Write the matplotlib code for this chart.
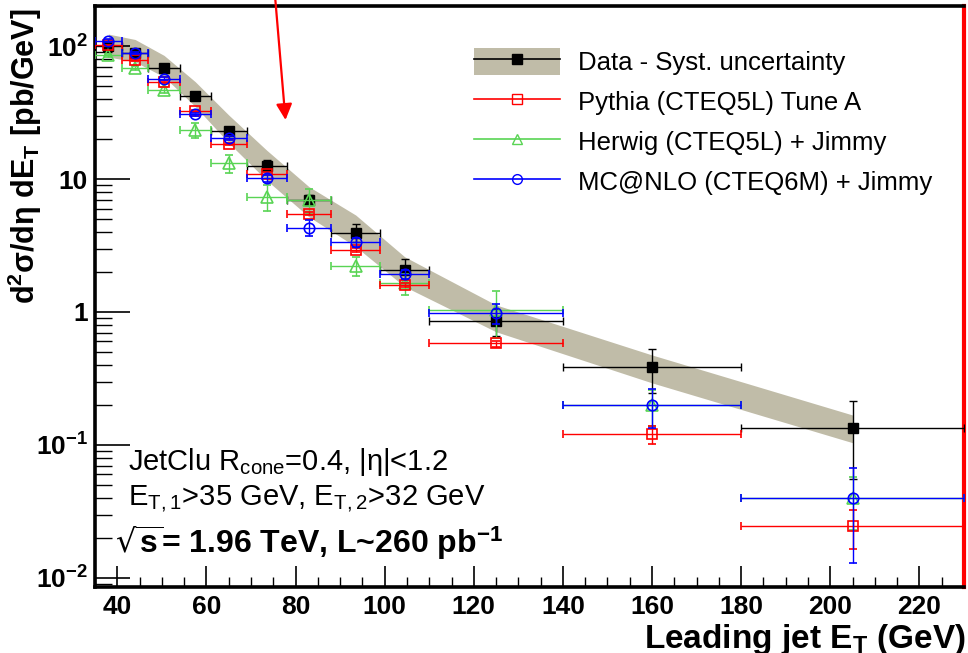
import matplotlib
matplotlib.use('Agg')
import numpy as np
import matplotlib.pyplot as plt
from matplotlib.lines import Line2D
from matplotlib.patches import Patch
from matplotlib.ticker import FixedLocator, MultipleLocator, NullFormatter

plt.rcParams['font.family'] = ['Liberation Sans', 'DejaVu Sans']
plt.rcParams['mathtext.default'] = 'regular'

# bins in leading jet ET (GeV)
bin_lo = [35, 41, 47, 54, 61, 69, 78, 88, 99, 110, 140, 180]
bin_hi = [41, 47, 54, 61, 69, 78, 88, 99, 110, 140, 180, 230]
et = [38, 44, 50.5, 57.5, 65, 73.5, 83, 93.5, 104.5, 125, 160, 205]

# data + systematic band (pb/GeV)
data = [100, 88, 68.7, 41.9, 22.9, 12.6, 6.95, 3.95, 2.07, 0.86, 0.388, 0.135]
data_err = [2, 1.8, 1.4, 0.9, 0.6, 1.2, 0.6, 0.6, 0.42, 0.2, 0.14, 0.08]
syst_hi = [123, 112, 85, 53.9, 30.3, 16.5, 8.76, 5.36, 2.6, 1.13, 0.475, 0.168]
syst_lo = [82.7, 76, 58.6, 35.1, 18.7, 9.8, 5.2, 3.1, 1.55, 0.71, 0.293, 0.104]

# MC predictions
pythia = [101, 78.5, 53.9, 32.4, 18.3, 11.0, 5.5, 2.92, 1.6, 0.58, 0.121, 0.0246]
pythia_err = [1.5, 1.2, 0.9, 0.6, 0.4, 0.3, 0.15, 0.1, 0.06, 0.03, 0.019, 0.008]
herwig = [85, 68.7, 47, 23.4, 13.1, 7.36, 6.95, 2.23, 1.64, 1.035, 0.2, 0.04]
herwig_err = [2.5, 2.5, 2.5, 3, 2, 1.6, 1.5, 0.37, 0.3, 0.4, 0.06, 0.017]
mcnlo = [110, 88, 56.6, 30.6, 20.2, 10.1, 4.3, 3.34, 1.92, 0.977, 0.2, 0.04]
mcnlo_err = [2, 1.5, 1.5, 1, 0.7, 0.6, 0.6, 0.25, 0.15, 0.17, 0.065, 0.027]

band_col = '#c0bca8'
green = '#59d454'

x = np.array(et)
xerr = [x - np.array(bin_lo), np.array(bin_hi) - x]

fig = plt.figure(figsize=(9.68, 6.53), dpi=100)
ax = fig.add_axes([95 / 968, 1 - 587 / 653, 869 / 968, 581 / 653])

ax.fill_between(et, syst_lo, syst_hi, color=band_col, lw=0, zorder=1)

ekw = dict(linestyle='none', elinewidth=1.0, capsize=3, capthick=1.0)
ax.errorbar(et, data, yerr=data_err, xerr=xerr, color='black', marker='s', markersize=7,
            zorder=3, **ekw)
ax.errorbar(et, herwig, yerr=herwig_err, xerr=xerr, color=green, marker='^', markersize=8.5,
            mfc='none', mew=1.2, zorder=4, **ekw)
ax.errorbar(et, pythia, yerr=pythia_err, xerr=xerr, color='red', marker='s', markersize=7,
            mfc='none', mew=1.2, zorder=5, **ekw)
ax.errorbar(et, mcnlo, yerr=mcnlo_err, xerr=xerr, color='blue', marker='o', markersize=7.5,
            mfc='none', mew=1.2, zorder=6, **ekw)

ax.set_yscale('log')
ax.set_xlim(35, 230)
ax.set_ylim(0.00855, 200)

ax.xaxis.set_major_locator(MultipleLocator(20))
ax.xaxis.set_minor_locator(MultipleLocator(5))
ax.yaxis.set_major_locator(FixedLocator([0.01, 0.1, 1, 10, 100]))
ax.set_yticklabels(['10$^{-2}$', '10$^{-1}$', '1', '10', '10$^{2}$'])
ax.yaxis.set_minor_formatter(NullFormatter())
ax.tick_params(axis='x', which='major', direction='in', length=15, width=1.2, pad=6,
               labelsize=19, top=False)
ax.tick_params(axis='x', which='minor', direction='in', length=7, width=1.0, top=False)
ax.tick_params(axis='y', which='major', direction='in', length=25, width=1.2, pad=5,
               labelsize=19, right=False)
ax.tick_params(axis='y', which='minor', direction='in', length=12, width=1.0, right=False)
for lab in ax.get_xticklabels() + ax.get_yticklabels():
    lab.set_fontweight('bold')

for s in ['left', 'bottom', 'top']:
    ax.spines[s].set_linewidth(2.6)
    ax.spines[s].set_color('black')
ax.spines['right'].set_linewidth(3)
ax.spines['right'].set_color('red')

fig.text(966 / 968, 1 - 648 / 653, 'Leading jet E$_{T}$ (GeV)', fontsize=24, fontweight='bold',
         ha='right', va='baseline')
fig.text(25 / 968, 1 - 8 / 653, 'd$^{2}$σ/dη dE$_{T}$ [pb/GeV]', fontsize=22, fontweight='bold',
         rotation=90, ha='center', va='top')

# legend
handles = [(Patch(facecolor=band_col, edgecolor='none'),
            Line2D([], [], color='black', marker='s', markersize=7, lw=1.2)),
           Line2D([], [], color='red', marker='s', mfc='none', markersize=7, lw=1.2),
           Line2D([], [], color=green, marker='^', mfc='none', markersize=7, lw=1.2),
           Line2D([], [], color='blue', marker='o', mfc='none', markersize=7, lw=1.2)]
labels = ['Data - Syst. uncertainty', 'Pythia (CTEQ5L) Tune A',
          'Herwig (CTEQ5L) + Jimmy', 'MC@NLO (CTEQ6M) + Jimmy']
ax.legend(handles, labels, loc='upper left', bbox_to_anchor=(0.436, 0.928), frameon=False,
          fontsize=18.5, handlelength=3.35, handleheight=1.25, handletextpad=0.7,
          labelspacing=0.5, borderpad=0, borderaxespad=0)

# labels
ax.text(0.038, 0.215, 'JetClu R$_{cone}$=0.4, |η|<1.2', transform=ax.transAxes,
        fontsize=21, va='center', ha='left')
ax.text(0.038, 0.150, 'E$_{T,1}$>35 GeV, E$_{T,2}$>32 GeV', transform=ax.transAxes,
        fontsize=21, va='center', ha='left')
ax.text(0.023, 0.076, '$\\sqrt{s}$= 1.96 TeV, L~260 pb$^{-1}$', transform=ax.transAxes,
        fontsize=23, fontweight='bold', va='center', ha='left')

# arrow from above the frame
ax.annotate('', xy=(77.8, 26.5), xycoords='data', xytext=(0.207, 1.02),
            textcoords='axes fraction',
            arrowprops=dict(arrowstyle='-|>', color='red', lw=1.6, mutation_scale=24),
            annotation_clip=False)

fig.savefig('out.png', dpi=100)
